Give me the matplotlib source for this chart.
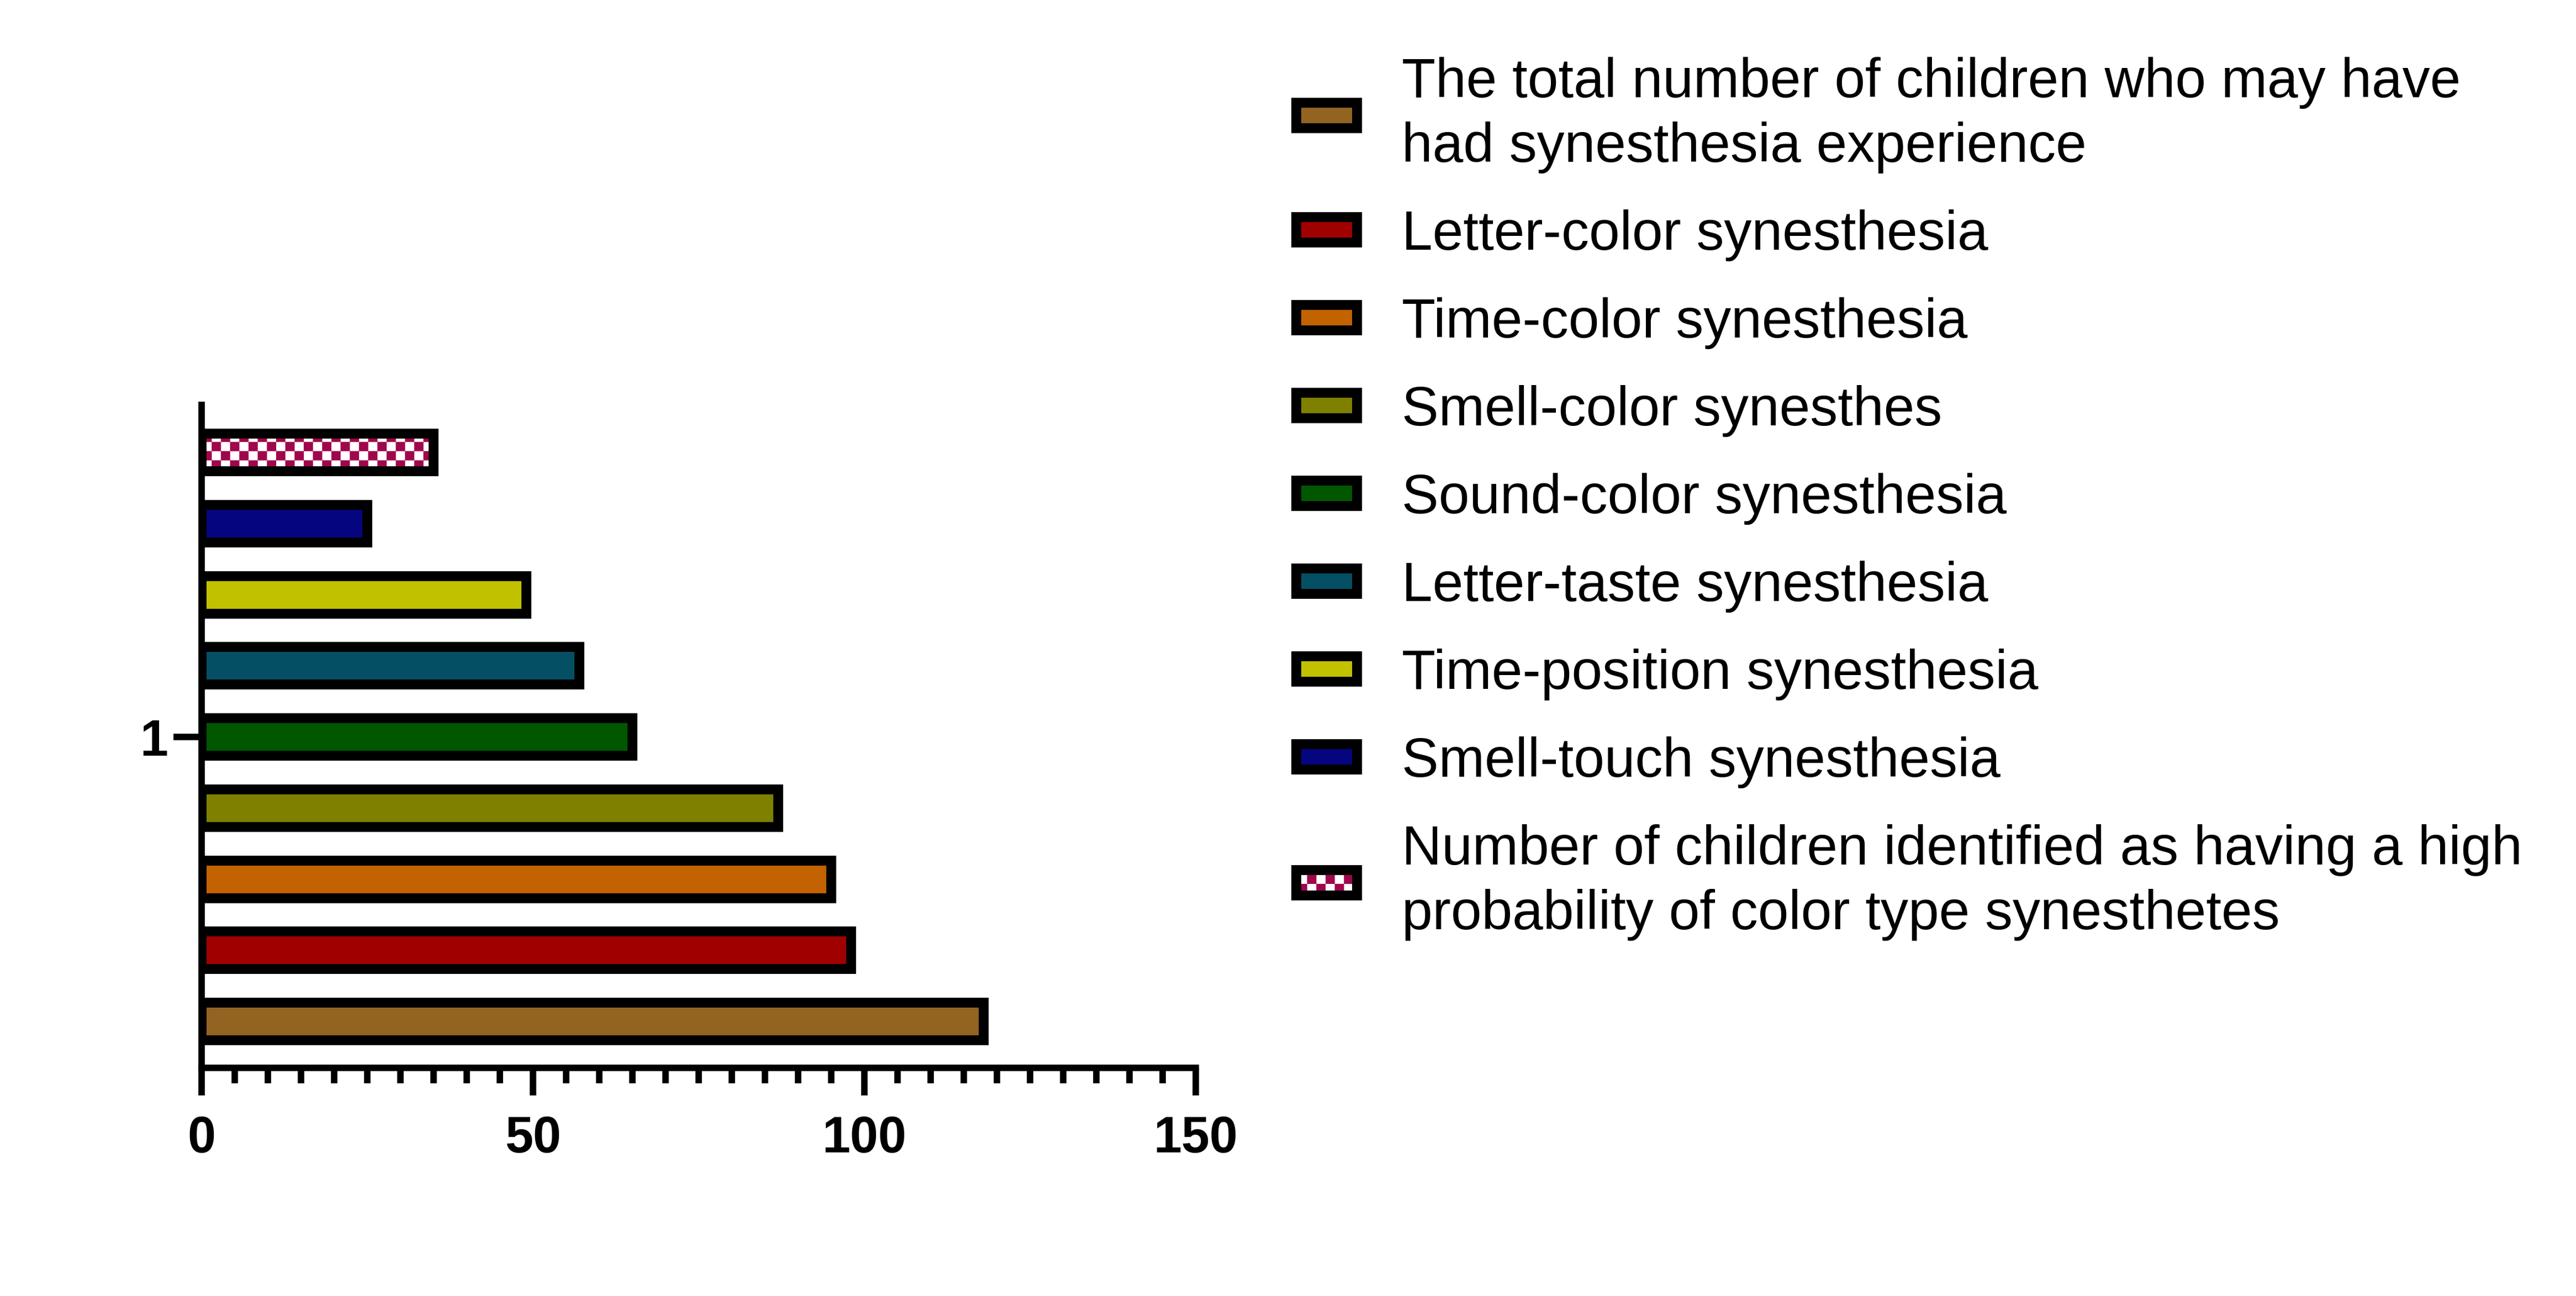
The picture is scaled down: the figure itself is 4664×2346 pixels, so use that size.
import numpy as np
import matplotlib
matplotlib.use("Agg")
import matplotlib.pyplot as plt
import matplotlib.hatch as mhatch
from matplotlib.path import Path
from matplotlib.ticker import MultipleLocator, FixedLocator
from matplotlib.legend_handler import HandlerTuple

# ---------------- data ----------------
categories = ["1"]
series_labels = [
    "The total number of children who may have\nhad synesthesia experience",
    "Letter-color synesthesia",
    "Time-color synesthesia",
    "Smell-color synesthes",
    "Sound-color synesthesia",
    "Letter-taste synesthesia",
    "Time-position synesthesia",
    "Smell-touch synesthesia",
    "Number of children identified as having a high\nprobability of color type synesthetes",
]
series_values = [118, 98, 95, 87, 65, 57, 49, 25, 35]
series_colors = ["#936322", "#A00000", "#C26200", "#7F7F00", "#005700",
                 "#044F64", "#C1C100", "#050580", "#A0064C"]
checker_series = [False, False, False, False, False, False, False, False, True]
x_ticks = [0, 50, 100, 150]


# ---------------- checkerboard hatch ----------------
class CheckerHatch(mhatch.HatchPatternBase):
    def __init__(self, hatch, density):
        self.n = 18 if "." in hatch else 0
        self.num_vertices = (self.n * self.n // 2) * 5

    def set_vertices_and_codes(self, vertices, codes):
        n = self.n
        s = 1.0 / n
        k = 0
        for i in range(n):
            for j in range(n):
                if (i + j) % 2 == 0:
                    x0, y0 = i * s, j * s
                    vertices[k:k + 5] = [(x0, y0), (x0 + s, y0), (x0 + s, y0 + s),
                                         (x0, y0 + s), (x0, y0)]
                    codes[k:k + 5] = [Path.MOVETO, Path.LINETO, Path.LINETO,
                                      Path.LINETO, Path.CLOSEPOLY]
                    k += 5


mhatch._hatch_types = [CheckerHatch]

plt.rcParams["font.family"] = ["Liberation Sans", "DejaVu Sans"]
plt.rcParams["hatch.linewidth"] = 0.05
plt.rcParams["hatch.color"] = series_colors[-1]

W, H, DPI = 4664, 2346, 300
fig = plt.figure(figsize=(W / DPI, H / DPI), dpi=DPI)

ax_left, ax_right = 365 / W, 2165 / W
ax_bottom, ax_top = 1 - 1933 / H, 1 - 733 / H
ax = fig.add_axes([ax_left, ax_bottom, ax_right - ax_left, ax_top - ax_bottom])

LW_AX = 2.8
LW_BAR = 4.3
bar_h = 0.528

handles = []
for i, (val, col, chk) in enumerate(zip(series_values, series_colors, checker_series)):
    if chk:
        b1 = ax.barh(i, val, height=bar_h, left=0, color="white",
                     edgecolor=col, linewidth=0, hatch=".", zorder=2)
        b2 = ax.barh(i, val, height=bar_h, left=0, facecolor="none",
                     edgecolor="black", linewidth=LW_BAR, zorder=3)
        handles.append((b1, b2))
    else:
        b = ax.barh(i, val, height=bar_h, left=0, color=col,
                    edgecolor="black", linewidth=LW_BAR, zorder=2)
        handles.append(b)

ax.set_xlim(0, 150)
ax.set_ylim(-0.652, 8.668)

for s in ["top", "right"]:
    ax.spines[s].set_visible(False)
for s in ["left", "bottom"]:
    ax.spines[s].set_linewidth(LW_AX)
    ax.spines[s].set_zorder(5)

ax.xaxis.set_major_locator(FixedLocator(x_ticks))
ax.xaxis.set_minor_locator(MultipleLocator(5))
ax.set_yticks([4])
ax.set_yticklabels(categories)

ax.tick_params(axis="x", which="major", length=12, width=LW_AX, pad=8.6,
               labelsize=22, direction="out")
ax.tick_params(axis="x", which="minor", length=6.7, width=LW_AX, direction="out")
ax.tick_params(axis="y", which="major", length=12.2, width=LW_AX, pad=2.4,
               labelsize=22, direction="out")
ax.tick_params(axis="y", which="minor", left=False)
for lab in ax.get_xticklabels() + ax.get_yticklabels():
    lab.set_fontweight("bold")

leg = fig.legend(handles, series_labels,
                 loc="upper left",
                 bbox_to_anchor=(2347 / W, 1 - 103 / H),
                 bbox_transform=fig.transFigure,
                 frameon=False, fontsize=24,
                 borderpad=0, borderaxespad=0,
                 handlelength=1.10, handleheight=0.331,
                 handletextpad=0.81, labelspacing=0.65,
                 handler_map={tuple: HandlerTuple(ndivide=1, pad=0)})
for t in leg.get_texts():
    t.set_linespacing(1.315)

fig.savefig("out.png", dpi=DPI, facecolor="white")
